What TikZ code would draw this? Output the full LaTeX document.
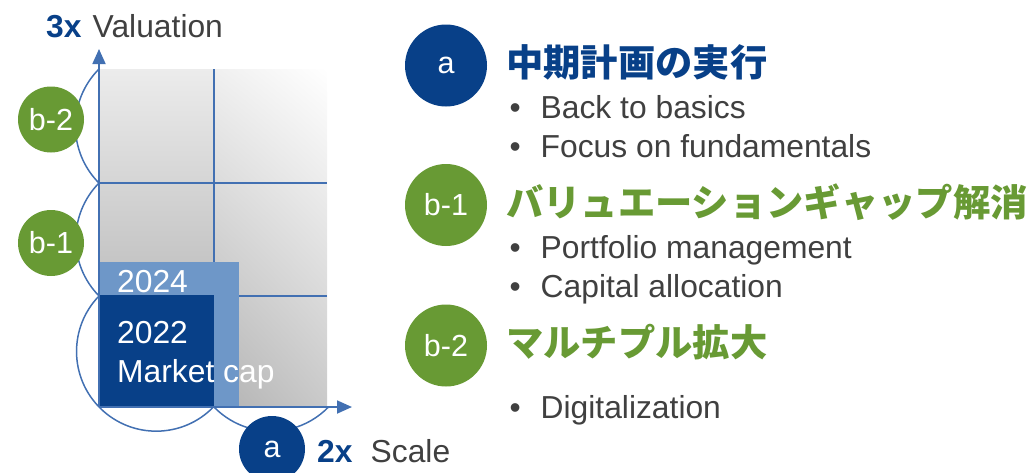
\documentclass[tikz,border=0pt]{standalone}
\usepackage{fontspec}
\setmainfont{Liberation Sans}
\newfontfamily\jpfont{Noto Sans CJK JP}
\usetikzlibrary{arrows.meta, positioning, shadings}
\definecolor{navy}{RGB}{8,64,136}
\definecolor{leaf}{RGB}{104,154,52}
\definecolor{sky}{RGB}{110,151,200}
\definecolor{axisblue}{RGB}{66,112,178}
\definecolor{ink}{RGB}{64,64,64}
\tikzset{
    x=1pt, y=-1pt, % one unit per pixel, y runs down
    badge/.style={circle, fill=#1, text=white, inner sep=0pt, minimum size=66pt, font=\fontsize{30.5}{36}\selectfont}, % round tags a, b-1, b-2
    bigbadge/.style={badge=#1, minimum size=82pt}, % the larger tags on the right
    heading/.style={anchor=west, inner sep=0pt, text=#1, font=\jpfont\bfseries\fontsize{37.3}{44}\selectfont}, % japanese titles
    item/.style={anchor=base west, inner sep=0pt, text=ink, font=\fontsize{31.8}{38}\selectfont}, % bullet lines and axis words
    boxtext/.style={anchor=base west, inner sep=0pt, text=white, font=\fontsize{31.8}{38}\selectfont}, % text on the blue boxes
    grid line/.style={draw=axisblue, line width=1.8pt}, % cell borders
    arc line/.style={draw=axisblue, line width=1.5pt}, % circle arcs round the cells
    axis/.style={draw=axisblue, line width=1.8pt, -{Triangle[length=15pt,width=13pt]}}, % the two axes
}

\begin{document}
\begin{tikzpicture}
\useasboundingbox (0,0) rectangle (1033,472);

% chart
\shade[top color=gray!15, middle color=gray!52, bottom color=gray!68] (99,69) rectangle (214,407);
\shade[upper left=gray!12, upper right=white, lower left=gray!60, lower right=gray!42] (214,69) rectangle (327,407);
\draw[arc line] (99,69) arc[start angle=224.9, end angle=135.1, radius=80.8];
\draw[arc line] (99,183) arc[start angle=224.6, end angle=135.4, radius=80.4];
\draw[arc line] (99,296) arc[start angle=224.1, end angle=44.1, radius=79.7];
\draw[arc line] (214,407) arc[start angle=135.9, end angle=44.1, radius=79.7];
\draw[grid line] (214,69) -- (214,407);
\draw[grid line] (99,183) -- (327,183);
\draw[grid line] (99,296) -- (327,296);
\fill[sky] (99,262) rectangle (239,407);
\fill[navy] (99,295) rectangle (214,407);
\coordinate (O) at (99,407);
\coordinate (ytip) at (99,49);
\coordinate (xtip) at (352,407);
\draw[axis] (O) -- (ytip);
\draw[axis] (O) -- (xtip);

\node[boxtext] (y24) at (117,292) {2024};
\node[boxtext] (y22) at (117,343) {2022};
\node[boxtext] (mcap) at (117,382) {Market cap};

\node[item, text=navy, font=\bfseries\fontsize{31.8}{38}\selectfont] (vx) at (46,37) {3x};
\node[item] (val) at (92.5,37) {Valuation};
\node[item, text=navy, font=\bfseries\fontsize{31.8}{38}\selectfont] (sx) at (317,462) {2x};
\node[item] (scl) at (370.5,462) {Scale};

\node[badge=leaf] (bl2) at (51,119.5) {b-2};
\node[badge=leaf] (bl1) at (51,243) {b-1};
\node[badge=navy] (bla) at (272,449) {a};

% legend
\node[bigbadge=navy] (ra) at (446,65.5) {a};
\node[bigbadge=leaf] (rb1) at (446,205) {b-1};
\node[bigbadge=leaf] (rb2) at (446,345.5) {b-2};
\node[heading=navy] (ha) at (506,62) {中期計画の実行};
\node[heading=leaf] (hb1) at (506,202) {バリュエーションギャップ解消};
\node[heading=leaf] (hb2) at (506,342) {マルチプル拡大};
\node[item] (i1) at (509.5,118) {\makebox[31pt][l]{•}Back to basics};
\node[item] (i2) at (509.5,157) {\makebox[31pt][l]{•}Focus on fundamentals};
\node[item] (i3) at (509.5,258) {\makebox[31pt][l]{•}Portfolio management};
\node[item] (i4) at (509.5,297) {\makebox[31pt][l]{•}Capital allocation};
\node[item] (i5) at (509.5,418) {\makebox[31pt][l]{•}Digitalization};
\end{tikzpicture}
\end{document}
